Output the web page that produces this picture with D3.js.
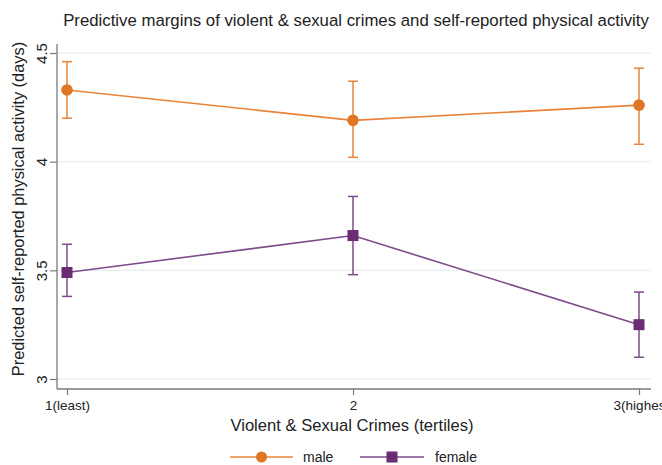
<!DOCTYPE html>
<html>
<head>
<meta charset="utf-8">
<script src="https://cdn.jsdelivr.net/npm/d3@7"></script>
<style>
  html, body { margin: 0; padding: 0; background: #fff; }
  svg { display: block; font-family: "Liberation Sans", Arial, sans-serif; }
</style>
</head>
<body>
<svg id="chart" width="662" height="465"></svg>
<script>
// Tertile categories on the x axis
const categories = ["1(least)", "2", "3(highest)"];
const tickLabels = ["1(least)", "2", "3(highes"];
const yTicks = [3, 3.5, 4, 4.5];

// Predictive margins with 95% confidence limits
const maleMargin = [4.33, 4.19, 4.26];
const maleLower  = [4.20, 4.02, 4.08];
const maleUpper  = [4.46, 4.37, 4.43];

const femaleMargin = [3.49, 3.66, 3.25];
const femaleLower  = [3.38, 3.48, 3.10];
const femaleUpper  = [3.62, 3.84, 3.40];

const seriesNames = ["male", "female"];

const svg = d3.select("#chart");

const orangeLine = "#e8843a", orangeMark = "#e07526";
const purpleLine = "#7d4a8a", purpleMark = "#6b2c74";
const axisColor = "#7a7a7a";

const plot = { left: 57, right: 651, top: 40, bottom: 389 };

const x = d3.scalePoint()
  .domain(categories)
  .range([67, 639]);

const y = d3.scaleLinear()
  .domain([3, 4.5])
  .range([379, 53]);

// Title
svg.append("text")
  .attr("x", 356).attr("y", 26)
  .attr("text-anchor", "middle")
  .attr("font-size", 16.8)
  .attr("fill", "#222")
  .text("Predictive margins of violent & sexual crimes and self-reported physical activity");

// Horizontal gridlines
svg.append("g")
  .selectAll("line")
  .data(yTicks)
  .join("line")
  .attr("x1", plot.left).attr("x2", plot.right)
  .attr("y1", d => y(d)).attr("y2", d => y(d))
  .attr("stroke", "#e6edf1")
  .attr("stroke-width", 1.2);

// Y axis with rotated tick labels
const yAxis = svg.append("g")
  .attr("transform", `translate(${plot.left},0)`)
  .call(d3.axisLeft(y).tickValues(yTicks).tickSize(7).tickPadding(3)
    .tickFormat(d3.format("")));
yAxis.select(".domain").remove();
yAxis.append("line")
  .attr("x1", 0).attr("x2", 0)
  .attr("y1", 44).attr("y2", plot.bottom)
  .attr("stroke", axisColor).attr("stroke-width", 1.3);
yAxis.selectAll(".tick line").attr("stroke", axisColor).attr("stroke-width", 1.2);
yAxis.selectAll(".tick text")
  .attr("transform", "rotate(-90)")
  .attr("x", 0).attr("y", -10)
  .attr("dy", 0)
  .attr("text-anchor", "middle")
  .attr("font-size", 15)
  .attr("fill", "#222");

// X axis
const xAxis = svg.append("g")
  .attr("transform", `translate(0,${plot.bottom})`)
  .call(d3.axisBottom(x).tickSize(6).tickPadding(5)
    .tickFormat((d, i) => tickLabels[i]));
xAxis.select(".domain").remove();
xAxis.append("line")
  .attr("x1", plot.left).attr("x2", plot.right)
  .attr("y1", 0).attr("y2", 0)
  .attr("stroke", axisColor).attr("stroke-width", 1.3);
xAxis.selectAll(".tick line").attr("stroke", axisColor).attr("stroke-width", 1.2);
xAxis.selectAll(".tick text")
  .attr("font-size", 13.5)
  .attr("fill", "#222");

// Axis titles
svg.append("text")
  .attr("transform", `translate(24,${209}) rotate(-90)`)
  .attr("text-anchor", "middle")
  .attr("font-size", 16.4)
  .attr("fill", "#222")
  .text("Predicted self-reported physical activity (days)");

svg.append("text")
  .attr("x", 352).attr("y", 431)
  .attr("text-anchor", "middle")
  .attr("font-size", 16.6)
  .attr("fill", "#222")
  .text("Violent & Sexual Crimes (tertiles)");

// Series: lines, error bars, markers
const series = [
  { name: seriesNames[0], m: maleMargin, lo: maleLower, hi: maleUpper, line: orangeLine, mark: orangeMark, shape: "circle" },
  { name: seriesNames[1], m: femaleMargin, lo: femaleLower, hi: femaleUpper, line: purpleLine, mark: purpleMark, shape: "square" }
];

const lineGen = d3.line()
  .x((d, i) => x(categories[i]))
  .y(d => y(d));

series.forEach(s => {
  const g = svg.append("g");
  g.append("path")
    .attr("d", lineGen(s.m))
    .attr("fill", "none")
    .attr("stroke", s.line)
    .attr("stroke-width", 1.6);

  categories.forEach((c, i) => {
    const cx = x(c);
    g.append("line")
      .attr("x1", cx).attr("x2", cx)
      .attr("y1", y(s.lo[i])).attr("y2", y(s.hi[i]))
      .attr("stroke", s.line).attr("stroke-width", 1.5);
    [s.lo[i], s.hi[i]].forEach(v => {
      g.append("line")
        .attr("x1", cx - 5).attr("x2", cx + 5)
        .attr("y1", y(v)).attr("y2", y(v))
        .attr("stroke", s.line).attr("stroke-width", 1.5);
    });
    if (s.shape === "circle") {
      g.append("circle")
        .attr("cx", cx).attr("cy", y(s.m[i])).attr("r", 5.8)
        .attr("fill", s.mark);
    } else {
      g.append("rect")
        .attr("x", cx - 5.5).attr("y", y(s.m[i]) - 5.5)
        .attr("width", 11).attr("height", 11)
        .attr("fill", s.mark);
    }
  });
});

// Legend
const legendY = 457;
const legendItems = [
  { s: series[0], x0: 230, x1: 293, text: 303 },
  { s: series[1], x0: 360, x1: 424, text: 435 }
];
legendItems.forEach(li => {
  const g = svg.append("g");
  g.append("line")
    .attr("x1", li.x0).attr("x2", li.x1)
    .attr("y1", legendY).attr("y2", legendY)
    .attr("stroke", li.s.line).attr("stroke-width", 1.6);
  const mx = (li.x0 + li.x1) / 2;
  if (li.s.shape === "circle") {
    g.append("circle").attr("cx", mx).attr("cy", legendY).attr("r", 5.5).attr("fill", li.s.mark);
  } else {
    g.append("rect").attr("x", mx - 5.5).attr("y", legendY - 5.5)
      .attr("width", 11).attr("height", 11).attr("fill", li.s.mark);
  }
  g.append("text")
    .attr("x", li.text).attr("y", legendY + 5)
    .attr("font-size", 14)
    .attr("fill", "#222")
    .text(li.s.name);
});
</script>
</body>
</html>
